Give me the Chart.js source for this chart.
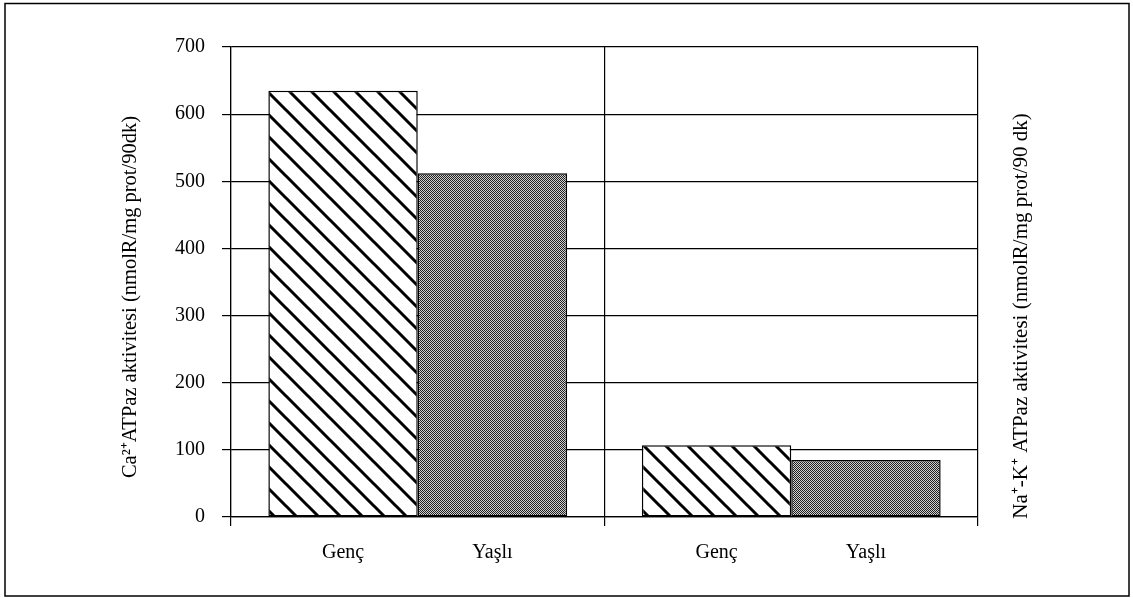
<!DOCTYPE html>
<html>
<head>
<meta charset="utf-8">
<script src="https://cdn.jsdelivr.net/npm/chart.js@4/dist/chart.umd.min.js"></script>
<style>
  html, body { margin: 0; padding: 0; background: #fff; }
  #wrap { position: relative; width: 1133px; height: 598px; }
  canvas { display: block; }
</style>
</head>
<body>
<div id="wrap"><canvas id="c" width="1133" height="598"></canvas></div>
<script>
// ---- data ----
const groups = ["Ca²⁺ATPaz", "Na⁺-K⁺ ATPaz"];
const seriesNames = ["Genç", "Yaşlı"];
const gencValues = [635, 107];
const yasliValues = [512, 85];
const yTicks = [0, 100, 200, 300, 400, 500, 600, 700];
const leftTitle = "Ca²⁺ATPaz aktivitesi (nmolR/mg prot/90dk)";
const rightTitle = "Na⁺-K⁺ ATPaz aktivitesi (nmolR/mg prot/90 dk)";

const FONT = "'Liberation Serif', 'Times New Roman', serif";

function hatchPattern() {
  const s = 22, c = document.createElement('canvas');
  c.width = s; c.height = s;
  const x = c.getContext('2d');
  x.fillStyle = '#fff'; x.fillRect(0, 0, s, s);
  x.strokeStyle = '#000'; x.lineWidth = 3;
  x.beginPath();
  for (let k = -1; k <= 1; k++) {
    x.moveTo(k * s - 2, -2); x.lineTo(k * s + s + 2, s + 2);
  }
  x.stroke();
  return x.createPattern(c, 'repeat');
}
function checkerPattern() {
  const c = document.createElement('canvas');
  c.width = 2; c.height = 2;
  const x = c.getContext('2d');
  x.fillStyle = '#d0d0d0'; x.fillRect(0, 0, 2, 2);
  x.fillStyle = '#202020'; x.fillRect(0, 0, 1, 1); x.fillRect(1, 1, 1, 1);
  return x.createPattern(c, 'repeat');
}

const framePlugin = {
  id: 'frame',
  beforeDraw(chart) {
    const ctx = chart.ctx;
    ctx.save();
    ctx.strokeStyle = '#000'; ctx.lineWidth = 1.5;
    ctx.strokeRect(5, 3.5, 1124, 592.5);
    ctx.restore();
  },
  afterDraw(chart) {
    const ctx = chart.ctx;
    ctx.save();
    ctx.fillStyle = '#000';
    ctx.font = '20px ' + FONT;
    ctx.textAlign = 'center';
    ctx.textBaseline = 'middle';
    chart.data.datasets.forEach((ds, di) => {
      const meta = chart.getDatasetMeta(di);
      meta.data.forEach(bar => {
        ctx.fillText(ds.label, bar.x, 553);
      });
    });
    // axis titles (both read bottom to top)
    ctx.save();
    ctx.font = '20.5px ' + FONT;
    ctx.translate(131, 297);
    ctx.rotate(-Math.PI / 2);
    ctx.fillText(leftTitle, 0, 0);
    ctx.restore();
    ctx.save();
    ctx.font = '21px ' + FONT;
    ctx.translate(1021, 316);
    ctx.rotate(-Math.PI / 2);
    ctx.fillText(rightTitle, 0, 0);
    ctx.restore();
    ctx.restore();
  }
};

new Chart(document.getElementById('c'), {
  type: 'bar',
  data: {
    labels: groups,
    datasets: [
      { label: seriesNames[0], data: gencValues, backgroundColor: hatchPattern(),
        borderColor: '#000', borderWidth: 1.5, borderSkipped: false },
      { label: seriesNames[1], data: yasliValues, backgroundColor: checkerPattern(),
        borderColor: '#000', borderWidth: 1.5, borderSkipped: false }
    ]
  },
  options: {
    responsive: false,
    animation: false,
    devicePixelRatio: 1,
    layout: { padding: { left: 0, right: 0, top: 47, bottom: 0 } },
    plugins: { legend: { display: false }, tooltip: { enabled: false } },
    datasets: { bar: { categoryPercentage: 0.8, barPercentage: 1.0 } },
    scales: {
      x: {
        type: 'category',
        offset: true,
        grid: { display: true, offset: true, color: '#000', lineWidth: 1.2, tickLength: 9, drawOnChartArea: true },
        border: { display: true, color: '#000', width: 1.2 },
        ticks: { display: false },
        afterFit(s) { s.height = 81; }
      },
      y: {
        position: 'left',
        min: 0, max: 700,
        afterBuildTicks(s) { s.ticks = yTicks.map(v => ({ value: v })); },
        grid: { color: '#000', lineWidth: 1.2, tickLength: 9 },
        border: { display: true, color: '#000', width: 1.2 },
        ticks: { color: '#000', padding: 17, font: { family: FONT, size: 20 } },
        title: { display: false },
        afterFit(s) { s.width = 231; }
      },
      y2: {
        position: 'right',
        min: 0, max: 700,
        grid: { display: false },
        border: { display: false },
        ticks: { display: false },
        afterFit(s) { s.width = 1133 - 978; }
      }
    }
  },
  plugins: [framePlugin]
});
</script>
</body>
</html>
